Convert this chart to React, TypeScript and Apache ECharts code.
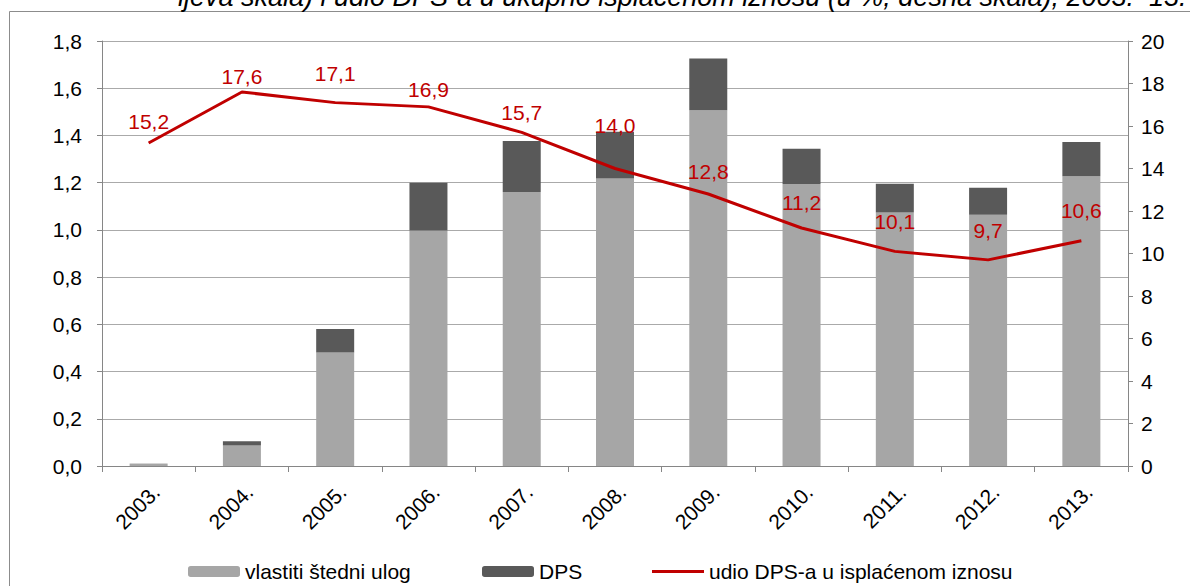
import React, { useEffect, useRef } from 'react';
import * as echarts from 'echarts';

const categories = ['2003.', '2004.', '2005.', '2006.', '2007.', '2008.', '2009.', '2010.', '2011.', '2012.', '2013.'];
const ownSavings = [0.0085, 0.087, 0.481, 0.997, 1.16, 1.218, 1.507, 1.194, 1.074, 1.064, 1.227];
const dpsValues = [0.0015, 0.018, 0.099, 0.203, 0.216, 0.198, 0.219, 0.15, 0.121, 0.114, 0.145];
const dpsShare = [15.2, 17.6, 17.1, 16.9, 15.7, 14.0, 12.8, 11.2, 10.1, 9.7, 10.6];
const labelRaise = [21, 15, 29, 17, 19, 43, 22, 25, 29, 29, 30];
const seriesNames = ['vlastiti štedni ulog', 'DPS', 'udio DPS-a u isplaćenom iznosu'];
const titleText = 'ijeva skala) i udio DPS-a u ukupno isplaćenom iznosu (u %, desna skala), 2003.–13.';

const FONT = 'Liberation Sans';
const comma = (v: number) => v.toFixed(1).replace('.', ',');

export default function App() {
  const ref = useRef<HTMLDivElement>(null);
  useEffect(() => {
    if (!ref.current) return;
    const chart = echarts.init(ref.current, undefined, { renderer: 'svg' });
    const legendBase = {
      top: 561,
      padding: 0,
      itemWidth: 52,
      itemHeight: 11,
      itemGap: 0,
      textStyle: { fontSize: 21, color: '#000', fontFamily: FONT },
    };
    chart.setOption({
      animation: false,
      backgroundColor: '#fff',
      textStyle: { fontFamily: FONT },
      grid: { left: 102, right: 62, top: 41, bottom: 120, containLabel: false },
      graphic: [
        {
          type: 'rect',
          shape: { x: 9.5, y: 11.5, width: 1400, height: 800 },
          style: { fill: 'none', stroke: '#8c8c8c', lineWidth: 1 },
          silent: true,
        },
        {
          type: 'text',
          x: 178,
          y: 10,
          style: {
            text: titleText,
            fontSize: 27,
            fontStyle: 'italic',
            fontFamily: FONT,
            fill: '#000',
            verticalAlign: 'bottom',
          },
          silent: true,
        },
      ],
      legend: [
        { ...legendBase, left: 188, data: [seriesNames[0]] },
        { ...legendBase, left: 482, data: [seriesNames[1]] },
        { ...legendBase, left: 652, itemHeight: 3, icon: 'rect', data: [seriesNames[2]] },
      ],
      xAxis: {
        type: 'category',
        data: categories,
        axisLine: { lineStyle: { color: '#868686', width: 1 } },
        axisTick: { show: true, length: 6, lineStyle: { color: '#868686' } },
        axisLabel: {
          rotate: 45,
          align: 'right',
          verticalAlign: 'top',
          margin: 15,
          fontSize: 21,
          color: '#000',
          fontFamily: FONT,
        },
      },
      yAxis: [
        {
          type: 'value',
          min: 0,
          max: 1.8,
          interval: 0.2,
          axisLine: { show: true, lineStyle: { color: '#868686' } },
          axisTick: { show: true, length: 5, lineStyle: { color: '#868686' } },
          axisLabel: { formatter: (v: number) => comma(v), fontSize: 21, color: '#000', margin: 20, fontFamily: FONT },
          splitLine: { show: true, lineStyle: { color: '#aaaaaa', width: 1 } },
        },
        {
          type: 'value',
          min: 0,
          max: 20,
          interval: 2,
          position: 'right',
          axisLine: { show: true, lineStyle: { color: '#868686' } },
          axisTick: { show: true, length: 5, lineStyle: { color: '#868686' } },
          axisLabel: { fontSize: 21, color: '#000', margin: 13, fontFamily: FONT },
          splitLine: { show: false },
        },
      ],
      series: [
        {
          name: seriesNames[0],
          type: 'bar',
          stack: 'total',
          barWidth: 38,
          itemStyle: { color: '#a6a6a6' },
          data: ownSavings,
        },
        {
          name: seriesNames[1],
          type: 'bar',
          stack: 'total',
          barWidth: 38,
          itemStyle: { color: '#595959' },
          data: dpsValues,
        },
        {
          name: seriesNames[2],
          type: 'line',
          yAxisIndex: 1,
          symbol: 'circle',
          symbolSize: 0,
          showSymbol: true,
          lineStyle: { color: '#c00000', width: 3 },
          itemStyle: { color: '#c00000' },
          label: {
            show: true,
            position: 'top',
            distance: 0,
            color: '#c00000',
            fontSize: 21,
            fontFamily: FONT,
            formatter: (p: any) => comma(p.value),
          },
          labelLayout: (p: any) => ({ dy: -(labelRaise[p.dataIndex] - 10), hideOverlap: false }),
          data: dpsShare,
        },
      ],
    });
    return () => chart.dispose();
  }, []);
  return <div ref={ref} style={{ position: 'fixed', left: 0, top: 0, width: 1190, height: 586 }} />;
}
